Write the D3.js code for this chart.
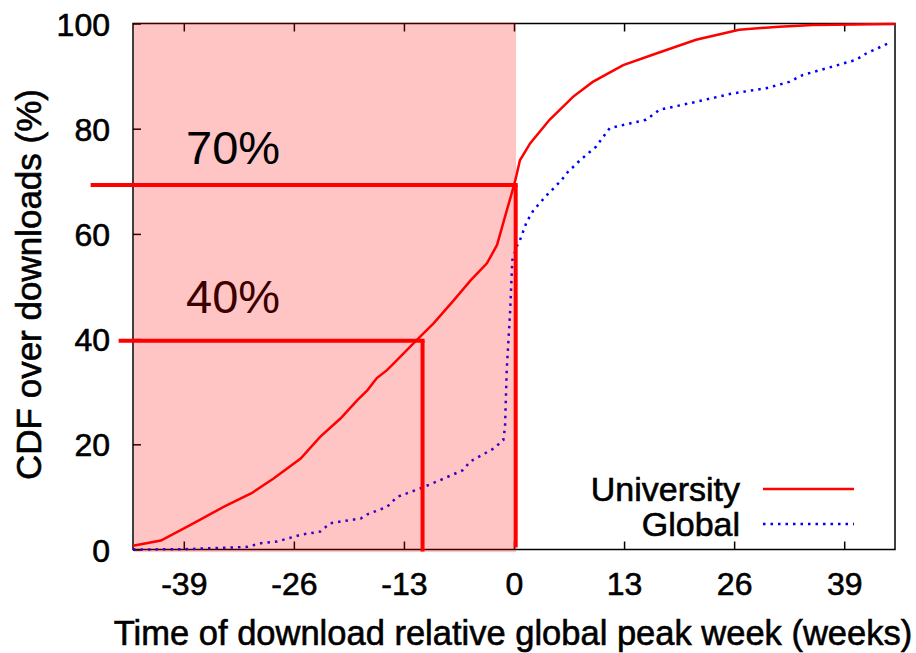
<!DOCTYPE html>
<html>
<head>
<meta charset="utf-8">
<script src="https://cdn.jsdelivr.net/npm/d3@7"></script>
<style>
  html, body { margin: 0; padding: 0; background: #fff; }
  svg { display: block; font-family: "Liberation Sans", Arial, Helvetica, sans-serif; }
</style>
</head>
<body>
<svg id="chart" width="916" height="653"></svg>
<script>
// ---------- data ----------
const xTicks = [-39, -26, -13, 0, 13, 26, 39];
const yTicks = [0, 20, 40, 60, 80, 100];

const univWeeks = [-45, -41.7, -38.2, -34.3, -31.0, -28.4, -25.2, -22.9, -20.5, -18.5, -17.3, -16.2, -15.0, -14.2, -11.5, -9.5, -7.1, -5.1, -3.2, -2.0, -1.06, -0.27, 0.2, 0.7, 1.9, 4.2, 7.0, 9.3, 12.9, 16.8, 21.5, 26.6, 31.3, 35.3, 45];
const univCDF   = [0.7, 1.7, 4.7, 8.1, 10.7, 13.5, 17.3, 21.4, 24.9, 28.4, 30.3, 32.6, 34.1, 35.4, 39.8, 43.0, 47.4, 51.2, 54.4, 57.9, 63.3, 67.7, 70.5, 74.0, 77.2, 81.7, 86.1, 88.9, 92.1, 94.3, 96.9, 98.8, 99.4, 99.7, 99.9];

const globWeeks = [-45, -39, -31.5, -29.9, -28, -25.2, -22.9, -21.7, -18.1, -17.3, -15, -13.8, -11.1, -8.7, -6.0, -5.2, -2.4, -1.26, -1.06, -0.86, -0.47, -0.2, 0.32, 0.7, 1.5, 2.3, 3.9, 5.6, 6.2, 7.8, 9.7, 11.3, 13.7, 15.6, 17.2, 21.5, 25.8, 29.8, 32.5, 34.1, 37.6, 40.4, 41.6, 44.3];
const globCDF   = [0, 0.05, 0.5, 1.2, 1.5, 2.8, 3.4, 5.0, 5.9, 6.7, 8.1, 10.0, 11.6, 13.2, 15.1, 16.7, 19.2, 20.8, 23.3, 34.1, 44.9, 55.0, 57.6, 58.8, 62.3, 64.5, 67.4, 70.2, 71.5, 74.0, 76.6, 80.1, 81.0, 81.7, 83.6, 85.1, 86.7, 87.7, 88.9, 90.2, 91.8, 93.1, 94.3, 96.3];

const seriesNames = ["University", "Global"];
const markerLabels = ["70%", "40%"];
const markerLevels = [69.3, 39.7];     // CDF levels of the two markers
const markerWeeks  = [0.2, -10.8];     // weeks where the markers drop
const markerStart  = [-50, -46.7];     // horizontal marker start (weeks)
const shadeRange   = [-45, 0.25];      // shaded region (weeks)

// ---------- scales ----------
const svg = d3.select("#chart");
const x = d3.scaleLinear().domain([-45, 45]).range([133, 895]);
const y = d3.scaleLinear().domain([0, 100]).range([549.5, 23.5]);

const FS = 32;
const fmt = d => String(d);   // plain hyphen-minus like the reference

function heavy(sel) {
  return sel.attr("stroke", "#000").attr("stroke-width", 0.6).attr("paint-order", "stroke");
}

// ---------- axes ----------
const gx = svg.append("g").attr("transform", `translate(0,${y(0)})`)
  .call(d3.axisBottom(x).tickValues(xTicks).tickFormat(fmt).tickSizeInner(-8).tickSizeOuter(0).tickPadding(23));
gx.select(".domain").remove();
heavy(gx.selectAll("text").attr("font-size", FS).attr("font-family", null).attr("fill", "#000").attr("dy", "0.71em"));
gx.selectAll("line").attr("stroke-width", 1.5);

const gxt = svg.append("g").attr("transform", `translate(0,${y(100)})`)
  .call(d3.axisTop(x).tickValues(xTicks).tickSizeInner(-8).tickSizeOuter(0).tickFormat(""));
gxt.select(".domain").remove();
gxt.selectAll("line").attr("stroke-width", 1.5);

const gy = svg.append("g").attr("transform", `translate(${x(-45)},0)`)
  .call(d3.axisLeft(y).tickValues(yTicks).tickFormat(fmt).tickSizeInner(-8).tickSizeOuter(0).tickPadding(23));
gy.select(".domain").remove();
heavy(gy.selectAll("text").attr("font-size", FS).attr("font-family", null).attr("fill", "#000").attr("dy", "0.36em"));
gy.selectAll("line").attr("stroke-width", 1.5);

// frame
svg.append("rect")
  .attr("x", x(-45)).attr("y", y(100))
  .attr("width", x(45) - x(-45)).attr("height", y(0) - y(100))
  .attr("fill", "none").attr("stroke", "#000").attr("stroke-width", 1.5);

// axis titles
heavy(svg.append("text")
  .attr("x", (x(-45) + x(45)) / 2 - 1).attr("y", 645)
  .attr("text-anchor", "middle").attr("font-size", 34.5)
  .text("Time of download relative global peak week (weeks)"));
heavy(svg.append("text")
  .attr("transform", `translate(41,${(y(0) + y(100)) / 2 - 2}) rotate(-90)`)
  .attr("text-anchor", "middle").attr("font-size", 35)
  .text("CDF over downloads (%)"));

// ---------- curves ----------
const line = d3.line().x(d => x(d[0])).y(d => y(d[1]));
svg.append("path")
  .datum(univWeeks.map((w, i) => [w, univCDF[i]]))
  .attr("d", line).attr("fill", "none").attr("stroke", "#ff0000").attr("stroke-width", 2.5);
svg.append("path")
  .datum(globWeeks.map((w, i) => [w, globCDF[i]]))
  .attr("d", line).attr("fill", "none").attr("stroke", "#0000ff").attr("stroke-width", 2.5)
  .attr("stroke-dasharray", "2.5,5");

// 40% label (under the translucent shade)
svg.append("text")
  .attr("x", 186).attr("y", y(markerLevels[1]) - 28)
  .attr("font-size", 47).attr("fill", "#000")
  .text(markerLabels[1]);

// shaded region (translucent red)
svg.append("rect")
  .attr("x", x(shadeRange[0]) + 1).attr("y", y(100) - 1)
  .attr("width", x(shadeRange[1]) - x(shadeRange[0]) - 1)
  .attr("height", y(-0.5) - y(100) + 1)
  .attr("fill", "#ff0000").attr("fill-opacity", 0.228);

// 70% label
svg.append("text")
  .attr("x", 186).attr("y", y(markerLevels[0]) - 21)
  .attr("font-size", 47).attr("fill", "#000")
  .text(markerLabels[0]);

// marker lines
markerLevels.forEach((lv, i) => {
  svg.append("line")
    .attr("x1", x(markerStart[i])).attr("x2", x(markerWeeks[i]) + 2)
    .attr("y1", y(lv)).attr("y2", y(lv))
    .attr("stroke", "#ff0000").attr("stroke-width", 4);
  svg.append("line")
    .attr("x1", x(markerWeeks[i])).attr("x2", x(markerWeeks[i]))
    .attr("y1", y(lv)).attr("y2", i === 0 ? y(0.4) : y(-0.4))
    .attr("stroke", "#ff0000").attr("stroke-width", 4);
});

// ---------- legend ----------
const legY = [489, 524];
const legStyles = [{ c: "#ff0000", d: null }, { c: "#0000ff", d: "2.5,5" }];
seriesNames.forEach((name, i) => {
  heavy(svg.append("text")
    .attr("x", 740).attr("y", legY[i] + 12)
    .attr("text-anchor", "end").attr("font-size", 34)
    .text(name));
  svg.append("line")
    .attr("x1", 763).attr("x2", 854)
    .attr("y1", legY[i]).attr("y2", legY[i])
    .attr("stroke", legStyles[i].c).attr("stroke-width", 2.5)
    .attr("stroke-dasharray", legStyles[i].d);
});
</script>
</body>
</html>
